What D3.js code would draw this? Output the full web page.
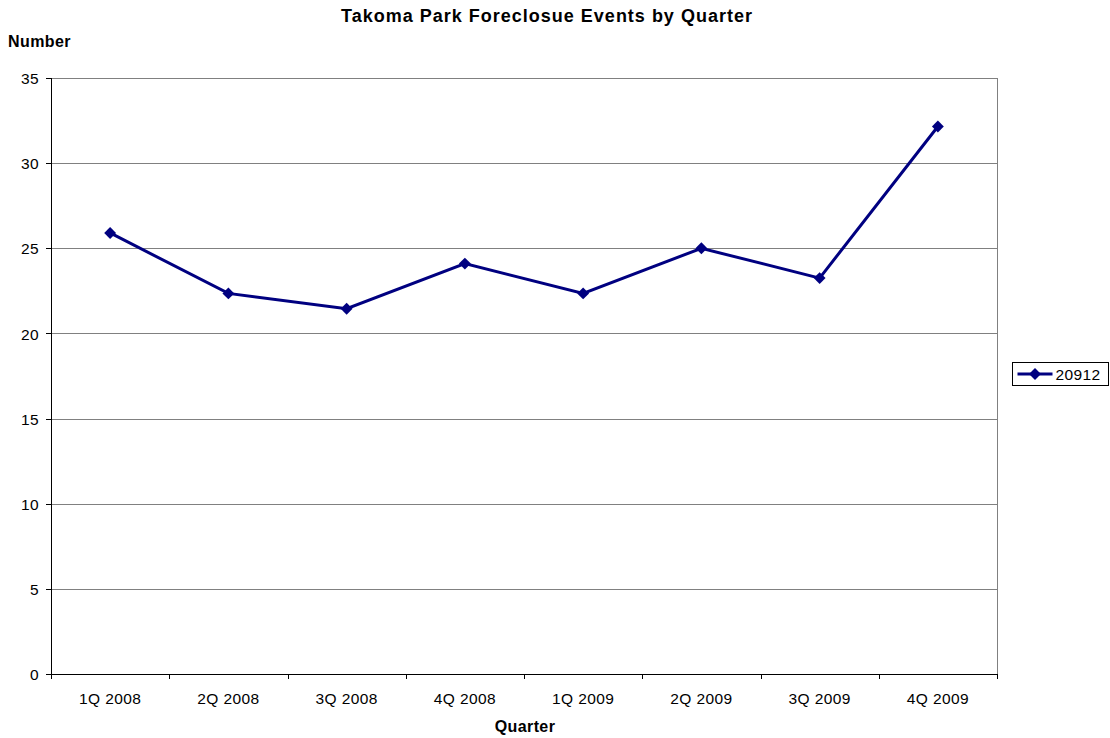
<!DOCTYPE html>
<html lang="en">
<head>
<meta charset="utf-8">
<title>Takoma Park Foreclosue Events by Quarter</title>
<script src="https://d3js.org/d3.v7.min.js"></script>
<style>
  body { margin: 0; background: #fff; }
  text { font-family: "Liberation Sans", Arial, Helvetica, sans-serif; fill: #000; }
  .grid line { stroke: #808080; stroke-width: 1; shape-rendering: crispEdges; }
  .grid path { stroke-width: 0; }
  .axis path, .axis line { stroke: #000; stroke-width: 1; shape-rendering: crispEdges; }
  .axis text { font-size: 15.5px; letter-spacing: 0.4px; }
</style>
</head>
<body>
<script>
// data
var quarters = ["1Q 2008", "2Q 2008", "3Q 2008", "4Q 2008", "1Q 2009", "2Q 2009", "3Q 2009", "4Q 2009"];
var values20912 = [25.9, 22.35, 21.45, 24.1, 22.35, 25.0, 23.25, 32.15];
var seriesName = "20912";
var yTicks = [0, 5, 10, 15, 20, 25, 30, 35];

var totalWidth = 1110, totalHeight = 738;
var margin = {top: 78, right: 113, bottom: 64, left: 51};
var width = totalWidth - margin.left - margin.right;   // 946
var height = totalHeight - margin.top - margin.bottom; // 596
var lineColor = "#000080";

var svg = d3.select("body").append("svg")
  .attr("width", totalWidth)
  .attr("height", totalHeight);

var g = svg.append("g")
  .attr("transform", "translate(" + margin.left + "," + margin.top + ")");

var xScale = d3.scaleBand().domain(quarters).range([0, width]);
var yScale = d3.scaleLinear().domain([0, 35]).range([height, 0]);

// horizontal gridlines
g.append("g")
  .attr("class", "grid")
  .call(d3.axisLeft(yScale).tickValues(yTicks.slice(1)).tickSize(-width).tickFormat(""));

// plot area right border
g.append("line")
  .attr("x1", width + 0.5).attr("x2", width + 0.5)
  .attr("y1", 0).attr("y2", height)
  .attr("stroke", "#808080");

// y axis
var yAxis = g.append("g")
  .attr("class", "axis")
  .call(d3.axisLeft(yScale).tickValues(yTicks).tickSize(5).tickPadding(7));
yAxis.selectAll("text").attr("dy", "0.36em");

// x axis with ticks between categories
var xAxis = g.append("g")
  .attr("class", "axis")
  .attr("transform", "translate(0," + height + ")")
  .call(d3.axisBottom(xScale).tickSize(0).tickPadding(19));
xAxis.select(".domain").attr("stroke", "#404040").attr("stroke-width", 2).style("shape-rendering", "auto");
xAxis.selectAll(".sep")
  .data(quarters.concat([null]))
  .enter().append("line")
  .attr("class", "sep")
  .attr("x1", function(d, i) { return Math.round(i * xScale.step()) + 0.5; })
  .attr("x2", function(d, i) { return Math.round(i * xScale.step()) + 0.5; })
  .attr("y1", 0).attr("y2", 5)
  .attr("stroke", "#000");

// the series line
var line = d3.line()
  .x(function(d, i) { return xScale(quarters[i]) + xScale.bandwidth() / 2; })
  .y(function(d) { return yScale(d); });

g.append("path")
  .datum(values20912)
  .attr("d", line)
  .attr("fill", "none")
  .attr("stroke", lineColor)
  .attr("stroke-width", 3);

var diamond = d3.symbol().type(d3.symbolDiamond2).size(90);
g.selectAll(".marker")
  .data(values20912)
  .enter().append("path")
  .attr("class", "marker")
  .attr("d", diamond)
  .attr("transform", function(d, i) {
    return "translate(" + (xScale(quarters[i]) + xScale.bandwidth() / 2) + "," + yScale(d) + ")";
  })
  .attr("fill", lineColor);

// titles
svg.append("text")
  .attr("x", 547).attr("y", 22)
  .attr("text-anchor", "middle")
  .style("font-size", "18px").style("font-weight", "bold").style("letter-spacing", "1px")
  .text("Takoma Park Foreclosue Events by Quarter");

svg.append("text")
  .attr("x", 8).attr("y", 47)
  .style("font-size", "16px").style("font-weight", "bold").style("letter-spacing", "0.4px")
  .text("Number");

svg.append("text")
  .attr("x", 525).attr("y", 732)
  .attr("text-anchor", "middle")
  .style("font-size", "16px").style("font-weight", "bold").style("letter-spacing", "0.4px")
  .text("Quarter");

// legend
var legend = svg.append("g").attr("transform", "translate(1012.5,362.5)");
legend.append("rect")
  .attr("width", 96).attr("height", 23)
  .attr("fill", "#fff").attr("stroke", "#000");
legend.append("line")
  .attr("x1", 5).attr("x2", 40).attr("y1", 11.5).attr("y2", 11.5)
  .attr("stroke", lineColor).attr("stroke-width", 3);
legend.append("path")
  .attr("d", diamond)
  .attr("transform", "translate(22.5,11.5)")
  .attr("fill", lineColor);
legend.append("text")
  .attr("x", 43).attr("y", 17)
  .style("font-size", "15.5px").style("letter-spacing", "0.4px")
  .text(seriesName);
</script>
</body>
</html>
